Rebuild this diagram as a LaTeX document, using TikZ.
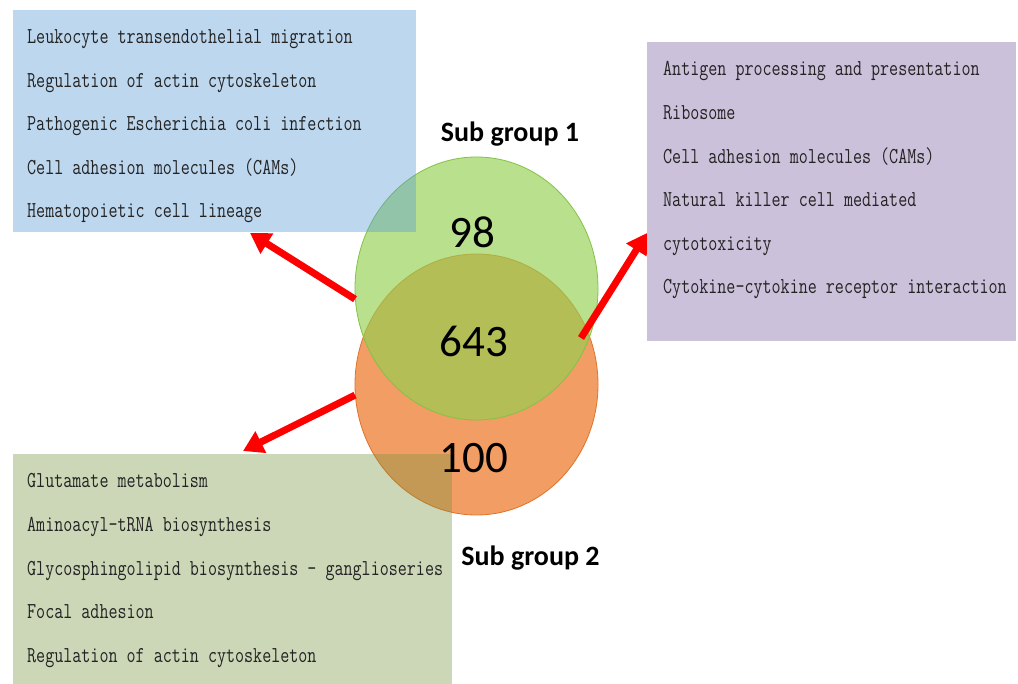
\documentclass[tikz,border=0pt]{standalone}
\usepackage{fontspec}
\usepackage{graphicx}
\newfontfamily\calib{Carlito}
\usetikzlibrary{arrows.meta,shapes.geometric}
\definecolor{gfill}{RGB}{146,208,80}
\definecolor{gline}{RGB}{130,195,70}
\definecolor{ofill}{RGB}{237,125,49}
\definecolor{oline}{RGB}{225,115,40}
\definecolor{bluefill}{RGB}{91,155,213}
\definecolor{purfill}{RGB}{204,193,218}
\definecolor{olivefill}{RGB}{119,147,60}
\definecolor{txt}{RGB}{35,35,35}
\tikzset{
  setcircle/.style={ellipse, inner sep=0pt, line width=0.8pt, minimum width=243pt},
  listbox/.style={anchor=north west, inner sep=0pt, outer sep=0pt},
  item/.style={anchor=base west, inner sep=0pt, text=txt, font=\fontsize{22.8}{26}\ttfamily},
  num/.style={anchor=base, inner sep=0pt, font=\calib\fontsize{45}{50}\selectfont},
  grouplab/.style={anchor=base, inner sep=0pt, font=\calib\bfseries\fontsize{28}{32}\selectfont},
  arr/.style={red, line width=7pt, -{Triangle[length=20pt,width=23pt]}}
}
\begin{document}
\begin{tikzpicture}[x=1pt,y=-1pt]
\useasboundingbox (0,0) rectangle (1018,684);
\fill[white] (0,0) rectangle (1018,684);
% circles
\node[setcircle, draw=oline, fill=ofill, fill opacity=0.75, minimum height=261pt] (o) at (476.5,384.5) {};
\node[setcircle, draw=gline, fill=gfill, fill opacity=0.65, minimum height=263pt] (g) at (476.5,288.5) {};
% boxes
\node[listbox, fill=bluefill, fill opacity=0.4, minimum width=403pt, minimum height=222pt] (blue) at (13,10) {};
\node[listbox, fill=purfill, minimum width=369pt, minimum height=299pt] (purple) at (647,42) {};
\node[listbox, fill=olivefill, fill opacity=0.37, minimum width=439pt, minimum height=230pt] (olive) at (13,454) {};
% list texts
\foreach \t [count=\i] in {Leukocyte transendothelial migration, Regulation of actin cytoskeleton, Pathogenic Escherichia coli infection, Cell adhesion molecules (CAMs), Hematopoietic cell lineage}
  \node[item] (bt\i) at (27,{43.5+43.6*(\i-1)}) {\scalebox{0.77}[1]{\t}};
\foreach \t [count=\i] in {Antigen processing and presentation, Ribosome, Cell adhesion molecules (CAMs), Natural killer cell mediated, cytotoxicity, Cytokine-cytokine receptor interaction}
  \node[item] (pt\i) at (663,{76+43.6*(\i-1)}) {\scalebox{0.77}[1]{\t}};
\foreach \t [count=\i] in {Glutamate metabolism, Aminoacyl-tRNA biosynthesis, Glycosphingolipid biosynthesis - ganglioseries, Focal adhesion, Regulation of actin cytoskeleton}
  \node[item] (ot\i) at (27,{488+43.6*(\i-1)}) {\scalebox{0.77}[1]{\t}};
% numbers
\node[num] (n98) at (472,248) {98};
\node[num] (n643) at (474,357) {643};
\node[num] (n100) at (474,473) {100};
% group labels
\node[grouplab] (sg1) at (510,142) {Sub group 1};
\node[grouplab] (sg2) at (530.5,565) {Sub group 2};
% arrows
\coordinate (s2) at (581,338);
\coordinate (t1) at (250,233);
\coordinate (t2) at (647,233);
\coordinate (t3) at (243,451);
\draw[arr] (g.185) -- (t1);
\draw[arr] (s2) -- (t2);
\draw[arr] (o.185) -- (t3);
\end{tikzpicture}
\end{document}
